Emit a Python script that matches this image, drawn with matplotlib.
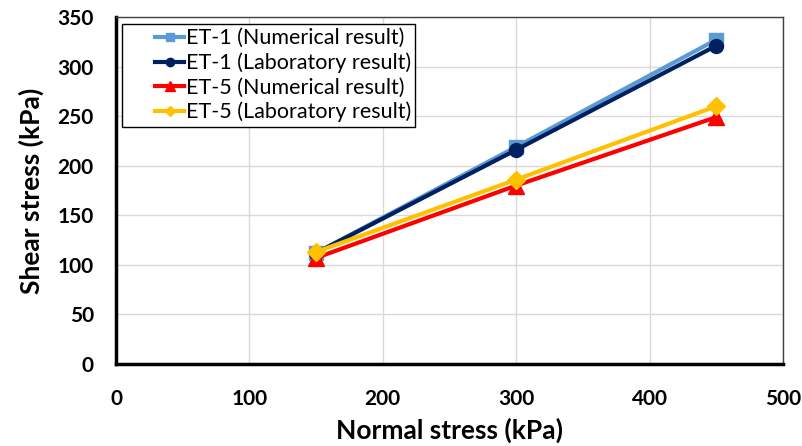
import matplotlib.pyplot as plt
from matplotlib.patches import Rectangle

# Data
normal_stress = [150, 300, 450]
et1_num = [112, 219, 327]
et1_lab = [112, 216, 321]
et5_num = [107, 180, 249]
et5_lab = [113, 186, 260]

plt.rcParams['font.family'] = ['Lato', 'DejaVu Sans']

fig = plt.figure(figsize=(8.03, 4.46), dpi=100)
ax = fig.add_axes([0.1445, 0.1839, 0.8305, 0.778])

ax.plot(normal_stress, et1_num, color='#5b9bd5', lw=3, marker='s', ms=10,
        label='ET-1 (Numerical result)')
ax.plot(normal_stress, et1_lab, color='#002060', lw=3, marker='o', ms=10,
        label='ET-1 (Laboratory result)')
ax.plot(normal_stress, et5_num, color='#ff0000', lw=3, marker='^', ms=11,
        label='ET-5 (Numerical result)')
ax.plot(normal_stress, et5_lab, color='#ffc000', lw=3, marker='D', ms=9,
        label='ET-5 (Laboratory result)')

ax.set_xlim(0, 500)
ax.set_ylim(0, 350)
ax.set_xticks(range(0, 501, 100))
ax.set_yticks(range(0, 351, 50))
ax.grid(True, color='#d9d9d9', lw=1)
ax.set_axisbelow(True)
ax.tick_params(length=0, labelsize=15)
ax.tick_params(axis='x', pad=18)
ax.tick_params(axis='y', pad=16)
for lbl in ax.get_xticklabels() + ax.get_yticklabels():
    lbl.set_fontweight('bold')

ax.spines['left'].set_linewidth(2.5)
ax.spines['bottom'].set_linewidth(2.5)
ax.spines['top'].set_linewidth(1)
ax.spines['right'].set_linewidth(1)
ax.spines['top'].set_color('#404040')
ax.spines['right'].set_color('#404040')

ax.set_xlabel('Normal stress (kPa)', fontsize=19, fontweight='bold', labelpad=6)
ax.set_ylabel('Shear stress (kPa)', fontsize=19, fontweight='bold', labelpad=10)

# legend box drawn separately so the handles sit indented like the original
ax.add_patch(Rectangle((0.009, 0.683), 0.439, 0.297, transform=ax.transAxes,
                       fill=True, facecolor='white', edgecolor='black',
                       lw=1, zorder=4))
leg = ax.legend(loc='upper left', bbox_to_anchor=(0.038, 1.008), fontsize=15.5,
                frameon=False, handlelength=1.35, handletextpad=0.05,
                borderpad=0.15, labelspacing=0.2, markerscale=0.6)
leg.set_zorder(5)

fig.savefig('out.png', dpi=100)
